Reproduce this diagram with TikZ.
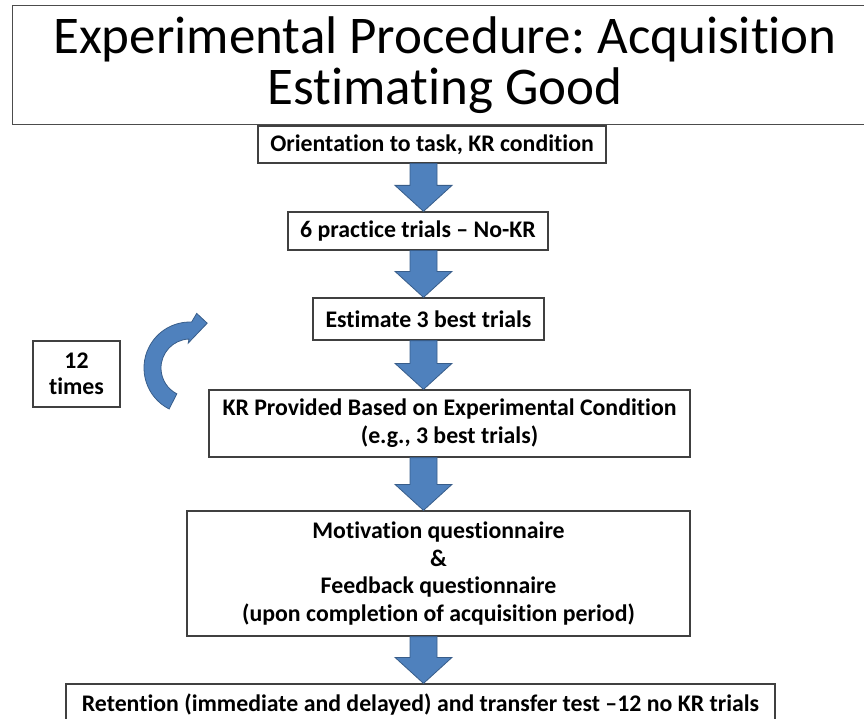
\documentclass[tikz,border=0pt]{standalone}
\usepackage{fontspec}
\setmainfont{Carlito}[Ligatures={TeX,NoCommon}]
\frenchspacing
\usetikzlibrary{calc}
\definecolor{arrowfill}{HTML}{4F81BD}
\definecolor{arrowline}{HTML}{385D8A}
\tikzset{
    titlebox/.style={draw=black!70,line width=1pt,inner sep=0pt},
    titletext/.style={align=center,inner sep=0pt,font=\fontsize{53}{51}\selectfont},
    stepbox/.style={draw=black!75,line width=1.2pt,align=center,inner sep=0pt,font=\bfseries\fontsize{23.8}{28}\selectfont},
    blockarrow/.style={fill=arrowfill,draw=arrowline,line width=0.8pt,line join=miter}
}
\def\shaft{13.5}
\def\head{28.5}
\def\headlen{26}
\newcommand{\blockarr}[2]{%
  \filldraw[blockarrow] ($(#1)+(-\shaft,0)$) -- ($(#2)+(-\shaft,-\headlen)$) -- ($(#2)+(-\head,-\headlen)$) -- (#2)
    -- ($(#2)+(\head,-\headlen)$) -- ($(#2)+(\shaft,-\headlen)$) -- ($(#1)+(\shaft,0)$) -- cycle;}

\begin{document}
\begin{tikzpicture}[x=1pt,y=-1pt]
  \useasboundingbox (0,0) rectangle (864,719);

  % Title
  \node[titlebox,minimum width=858,minimum height=119] (title) at (441,65.5) {};
  \node[titletext] (titletxt) at ($(title.center)+(4,0)$) {Experimental Procedure: Acquisition\\Estimating Good};

  % Steps
  \node[stepbox,minimum width=348,minimum height=37] (orient) at (432,144.5) {Orientation to task, KR condition};
  \node[stepbox,minimum width=260,minimum height=38] (practice) at (418,231) {6 practice trials -- No-KR};
  \node[stepbox,minimum width=231,minimum height=42] (estimate) at (428.5,319) {Estimate 3 best trials};
  \node[stepbox,minimum width=481,minimum height=67] (kr) at (449.5,423.5) {KR Provided Based on Experimental Condition\\(e.g., 3 best trials)};
  \node[stepbox,minimum width=503,minimum height=125,font=\bfseries\fontsize{23.8}{27.7}\selectfont] (quest) at (438.5,573.5) {Motivation questionnaire\\\&\\Feedback questionnaire\\(upon completion of acquisition period)};
  \node[stepbox,minimum width=709,minimum height=42] (retention) at (420.5,705) {Retention (immediate and delayed) and transfer test --12 no KR trials};
  \node[stepbox,minimum width=87,minimum height=66,font=\bfseries\fontsize{23.8}{26}\selectfont] (times) at (76.5,374) {12\\times};

  % Block arrows
  \coordinate (ax) at (423.5,0);
  \blockarr{orient.south -| ax}{practice.north -| ax}
  \blockarr{practice.south -| ax}{estimate.north -| ax}
  \blockarr{estimate.south -| ax}{kr.north -| ax}
  \blockarr{kr.south -| ax}{quest.north -| ax}
  \blockarr{quest.south -| ax}{retention.north -| ax}

  % Loop arrow
  \coordinate (c) at (190,368);
  \filldraw[blockarrow] ([shift={(117:46)}]c) arc[start angle=117,end angle=272,radius=46]
    -- ([shift={(277:55)}]c) -- ([shift={(291:48)}]c) -- ([shift={(266:25)}]c)
    -- ([shift={(268:29)}]c) arc[start angle=268,end angle=117,radius=29] -- cycle;
\end{tikzpicture}
\end{document}
